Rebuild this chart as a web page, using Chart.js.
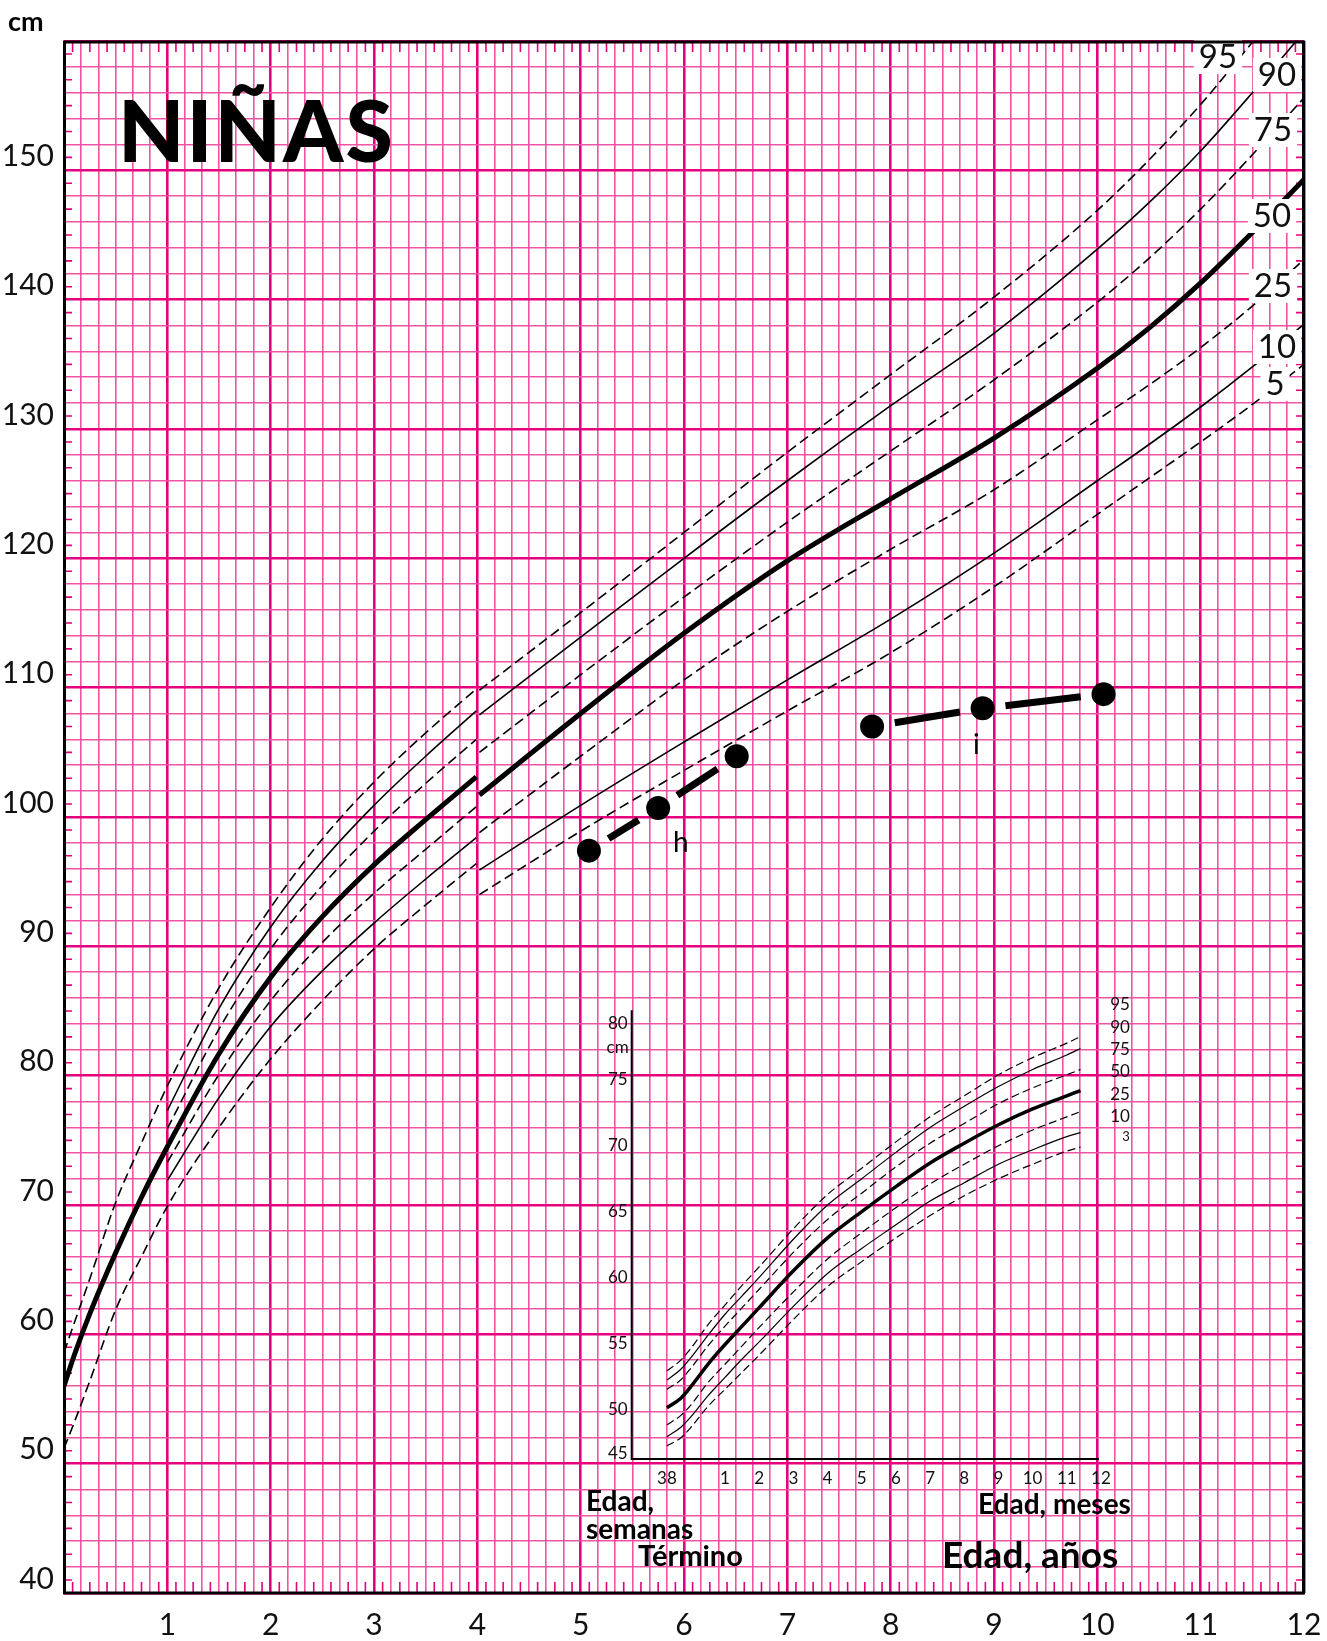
<!DOCTYPE html>
<html>
<head>
<meta charset="utf-8">
<title>Niñas - talla</title>
<script src="https://cdn.jsdelivr.net/npm/chart.js@4.4.1/dist/chart.umd.min.js"></script>
<style>
  html, body { margin: 0; padding: 0; background: #fff; }
  canvas { display: block; }
</style>
</head>
<body>
<canvas id="graficoTalla" width="1327" height="1641"></canvas>
<script>
// percentiles
const percentiles = ['95', '90', '75', '50', '25', '10', '5'];
const percentilesLactante = ['95', '90', '75', '50', '25', '10', '3'];

// etiquetas de los ejes
const aniosEtiquetas = [1, 2, 3, 4, 5, 6, 7, 8, 9, 10, 11, 12];
const tallaEtiquetas = [40, 50, 60, 70, 80, 90, 100, 110, 120, 130, 140, 150];
const lactanteTallaEtiquetas = [80, 75, 70, 65, 60, 55, 50, 45];
const lactanteMesesEtiquetas = [1, 2, 3, 4, 5, 6, 7, 8, 9, 10, 11, 12];
const semanasTermino = 38;

// 0 a 4 años (años, cm)
const edades0a4 = [0, 0.1, 0.25, 0.5, 0.75, 1, 1.5, 2, 2.5, 3, 3.5, 3.99];
const p95_0a4 = [58.6, 60.9, 64.3, 70.2, 74.8, 79.2, 86.8, 93.0, 98.3, 102.7, 106.5, 109.9];
const p50_0a4 = [56.0, 58.4, 61.6, 66.3, 70.6, 74.5, 81.7, 87.6, 92.3, 96.3, 99.8, 103.1];
const p5_0a4 = [51.2, 53.2, 56.4, 61.9, 66.0, 69.9, 76.0, 81.3, 85.8, 89.8, 93.2, 96.4];

const edades1a4 = [1, 1.5, 2, 2.5, 3, 3.5, 3.99];
const p90_1a4 = [77.3, 85.2, 91.5, 96.6, 100.9, 104.7, 108.2];
const p75_1a4 = [75.9, 83.6, 89.8, 94.7, 98.9, 102.6, 106.0];
const p25_1a4 = [73.3, 80.1, 85.8, 90.3, 94.1, 97.5, 100.8];
const p10_1a4 = [71.9, 78.3, 83.8, 88.1, 91.8, 95.2, 98.4];

// 4 a 12 años
const edades4a12 = [4.02, 5, 6, 7, 8, 9, 10, 10.5, 11, 11.5, 12];
const p95_4a12 = [109.8, 115.8, 122.0, 128.2, 134.2, 140.2, 146.9, 150.8, 155.1, 159.9, 164.8];
const p90_4a12 = [107.9, 113.9, 120.0, 126.0, 131.8, 137.4, 143.9, 147.5, 151.5, 156.0, 160.7];
const p75_4a12 = [105.0, 111.0, 117.0, 122.8, 128.3, 133.8, 139.8, 143.2, 147.0, 151.2, 155.6];
const p50_4a12 = [101.7, 108.0, 114.2, 119.8, 124.6, 129.3, 134.7, 137.8, 141.3, 145.2, 149.3];
const p25_4a12 = [98.8, 104.7, 110.6, 115.9, 120.7, 125.3, 130.7, 133.4, 136.3, 139.5, 143.1];
const p10_4a12 = [95.9, 100.9, 105.8, 110.6, 115.3, 120.4, 126.0, 128.8, 131.7, 134.8, 138.1];
const p5_4a12 = [94.0, 98.9, 103.6, 108.2, 112.7, 117.8, 123.4, 126.2, 129.0, 131.9, 135.0];

// lactante: meses desde el término (cm)
const mesesLactante = [-0.7, -0.3, 0, 0.5, 1, 1.5, 2, 3, 4, 5, 6, 7, 8, 9, 10, 11, 11.4];
const l95 = [52.9, 53.7, 54.6, 56.4, 57.9, 59.4, 60.8, 63.7, 66.3, 68.3, 70.3, 72.2, 73.8, 75.4, 76.7, 77.8, 78.3];
const l90 = [52.2, 53.0, 53.9, 55.6, 57.2, 58.6, 60.0, 62.9, 65.5, 67.5, 69.5, 71.4, 73.0, 74.5, 75.8, 76.9, 77.4];
const l75 = [51.5, 52.2, 53.1, 54.8, 56.3, 57.7, 59.1, 61.9, 64.4, 66.4, 68.4, 70.2, 71.7, 73.2, 74.4, 75.4, 75.8];
const l50 = [50.1, 50.8, 51.7, 53.4, 54.9, 56.3, 57.7, 60.5, 63.0, 65.0, 66.9, 68.7, 70.2, 71.6, 72.8, 73.8, 74.2];
const l25 = [48.8, 49.5, 50.3, 52.0, 53.4, 54.8, 56.2, 58.9, 61.4, 63.4, 65.3, 67.1, 68.6, 70.0, 71.2, 72.2, 72.6];
const l10 = [47.9, 48.6, 49.4, 51.0, 52.4, 53.8, 55.1, 57.8, 60.3, 62.2, 64.0, 65.8, 67.2, 68.6, 69.7, 70.7, 71.0];
const l3 = [47.2, 47.8, 48.6, 50.2, 51.5, 52.8, 54.1, 56.8, 59.3, 61.2, 63.0, 64.7, 66.2, 67.5, 68.6, 69.6, 69.9];

// casos h e i
const hEdad = [5.08, 5.75, 6.51];
const hTalla = [97.4, 100.7, 104.7];
const iEdad = [7.82, 8.89, 10.06];
const iTalla = [107.0, 108.4, 109.5];

const rosa = '#ef55a4';
const rosaFuerte = '#e6007e';
const estilos = ['guion', 'fino', 'guion', 'grueso', 'guion', 'fino', 'guion'];

function serie(edades, valores, estilo, lactante) {
    let ancho = lactante ? 1.2 : 1.6;
    let guion = [];
    if (estilo === 'guion') guion = lactante ? [8, 4] : [10, 5];
    if (estilo === 'grueso') ancho = lactante ? 3.5 : 5;
    return {
        data: edades.map((e, i) => ({ x: e, y: valores[i] })),
        borderColor: '#000',
        borderWidth: ancho,
        borderDash: guion,
        pointRadius: 0,
        cubicInterpolationMode: 'monotone',
        fill: false,
        xAxisID: lactante ? 'x2' : 'x',
        yAxisID: lactante ? 'y2' : 'y'
    };
}

const huecoPunto = 23;
function caso(edades, tallas) {
    const largo = c => Math.hypot(c.p1.x - c.p0.x, c.p1.y - c.p0.y);
    return {
        data: edades.map((e, i) => ({ x: e, y: tallas[i] })),
        borderColor: '#000',
        borderWidth: 7,
        pointRadius: 12,
        pointBackgroundColor: '#000',
        pointBorderWidth: 0,
        fill: false,
        segment: {
            borderDash: c => [Math.max(largo(c) - 2 * huecoPunto, 0), 2 * huecoPunto],
            borderDashOffset: c => largo(c) - huecoPunto
        }
    };
}

const tablas0a4 = [p95_0a4, p90_1a4, p75_1a4, p50_0a4, p25_1a4, p10_1a4, p5_0a4];
const tablas4a12 = [p95_4a12, p90_4a12, p75_4a12, p50_4a12, p25_4a12, p10_4a12, p5_4a12];
const tablasLactante = [l95, l90, l75, l50, l25, l10, l3];

const datasets = [];
percentiles.forEach((p, i) => {
    const edades = (p === '95' || p === '50' || p === '5') ? edades0a4 : edades1a4;
    datasets.push(serie(edades, tablas0a4[i], estilos[i], false));
    datasets.push(serie(edades4a12, tablas4a12[i], estilos[i], false));
});
percentilesLactante.forEach((p, i) => {
    datasets.push(serie(mesesLactante, tablasLactante[i], estilos[i], true));
});
datasets.push(caso(hEdad, hTalla));
datasets.push(caso(iEdad, iTalla));

const fuente = 'Lato, "Open Sans", sans-serif';

function texto(ctx, t, x, y, tam, peso, alin) {
    ctx.font = (peso || 'normal') + ' ' + tam + 'px ' + fuente;
    ctx.textAlign = alin || 'left';
    ctx.textBaseline = 'middle';
    ctx.fillText(t, x, y);
}

const decoracion = {
    id: 'decoracion',
    beforeDatasetsDraw(chart) {
        const { ctx, chartArea: a, scales } = chart;
        const { x, y, x2, y2 } = scales;
        ctx.save();
        // marcas interiores cada cm y cada mes
        ctx.strokeStyle = rosaFuerte;
        ctx.lineWidth = 1.6;
        ctx.beginPath();
        for (let v = 41; v < 160; v += 2) {
            const py = y.getPixelForValue(v);
            ctx.moveTo(a.left, py); ctx.lineTo(a.left + 8, py);
            ctx.moveTo(a.right - 8, py); ctx.lineTo(a.right, py);
        }
        for (let m = 1; m < 144; m += 2) {
            const px = x.getPixelForValue(m / 12);
            ctx.moveTo(px, a.top); ctx.lineTo(px, a.top + 11);
            ctx.moveTo(px, a.bottom - 11); ctx.lineTo(px, a.bottom);
        }
        ctx.stroke();

        // ejes del lactante
        const ex0 = x2.getPixelForValue(-1.73), ex1 = x2.getPixelForValue(11.94);
        const ey0 = y2.getPixelForValue(46.2), ey1 = y2.getPixelForValue(80.3);
        ctx.strokeStyle = '#000';
        ctx.lineWidth = 2;
        ctx.beginPath();
        ctx.moveTo(ex0, ey1); ctx.lineTo(ex0, ey0); ctx.lineTo(ex1, ey0);
        ctx.stroke();

        ctx.fillStyle = '#111';
        lactanteTallaEtiquetas.forEach(v => {
            let vv = v;
            if (v === 80) vv = 79.3;
            if (v === 45) vv = 46.6;
            texto(ctx, String(v), ex0 - 4, y2.getPixelForValue(vv), 17, 'normal', 'right');
        });
        texto(ctx, 'cm', ex0 - 3, y2.getPixelForValue(77.5), 17, 'normal', 'right');
        const ly = ey0 + 19;
        texto(ctx, String(semanasTermino), x2.getPixelForValue(-0.7), ly, 17, 'normal', 'center');
        lactanteMesesEtiquetas.forEach(m => {
            texto(ctx, String(m), x2.getPixelForValue(m), ly, 17, 'normal', 'center');
        });
        ctx.restore();
    },
    afterDatasetsDraw(chart) {
        const { ctx, chartArea: a } = chart;
        ctx.save();
        // etiquetas de percentiles con fondo blanco
        const pos = [[1218, 57], [1277, 75], [1273, 130], [1272, 216], [1273, 286], [1277, 347], [1275, 384]];
        ctx.font = '33px ' + fuente;
        percentiles.forEach((p, i) => {
            const w = ctx.measureText(p).width;
            ctx.fillStyle = '#fff';
            ctx.fillRect(pos[i][0] - w / 2 - 5, pos[i][1] - 17, w + 10, 34);
        });
        ctx.fillStyle = '#111';
        percentiles.forEach((p, i) => texto(ctx, p, pos[i][0], pos[i][1], 33, 'normal', 'center'));

        // percentiles del lactante
        percentilesLactante.forEach((p, i) => {
            if (p === '3') texto(ctx, p, 1126, 1137, 13, 'normal', 'center');
            else texto(ctx, p, 1120, 1005 + i * 22.3, 17, 'normal', 'center');
        });

        // marco
        ctx.strokeStyle = '#000';
        ctx.lineWidth = 3;
        ctx.strokeRect(a.left + 0.5, a.top + 1, a.right - a.left - 1, a.bottom - a.top - 1);

        // textos
        ctx.fillStyle = '#000';
        texto(ctx, 'cm', 8, 22, 27, 'bold');
        ctx.letterSpacing = '2px';
        texto(ctx, 'NIÑAS', 118, 134, 86, '900');
        ctx.letterSpacing = '0px';
        texto(ctx, 'h', 673, 843, 28);
        texto(ctx, 'i', 973, 745, 28);
        texto(ctx, 'Edad,', 586, 1502, 28, 'bold');
        texto(ctx, 'semanas', 586, 1530, 28, 'bold');
        texto(ctx, 'Término', 638, 1557, 29, 'bold');
        texto(ctx, 'Edad, meses', 978, 1505, 28, 'bold');
        texto(ctx, 'Edad, años', 942, 1556, 37, 'bold');
        ctx.restore();
    }
};

new Chart(document.getElementById('graficoTalla'), {
    type: 'line',
    data: { datasets: datasets },
    options: {
        responsive: false,
        animation: false,
        devicePixelRatio: 1,
        layout: { padding: { top: 41, right: 23, left: 0, bottom: 0 } },
        plugins: { legend: { display: false }, tooltip: { enabled: false } },
        scales: {
            x: {
                type: 'linear',
                min: 0,
                max: 12,
                afterBuildTicks: s => { s.ticks = Array.from({ length: 145 }, (_, i) => ({ value: i / 12 })); },
                afterFit: s => { s.height = 48; s.paddingLeft = 0; s.paddingRight = 0; },
                border: { display: false },
                grid: {
                    drawTicks: false,
                    color: c => {
                        if (!c.tick) return 'rgba(0,0,0,0)';
                        const m = Math.round(c.tick.value * 12);
                        return m % 2 ? 'rgba(0,0,0,0)' : (m % 12 ? rosa : rosaFuerte);
                    },
                    lineWidth: c => (c.tick && Math.round(c.tick.value * 12) % 12 === 0) ? 2.6 : 1.6
                },
                ticks: {
                    autoSkip: false,
                    maxRotation: 0,
                    padding: 14,
                    color: '#111',
                    font: { family: fuente, size: 30 },
                    callback: v => {
                        const m = Math.round(v * 12);
                        return (m % 12 === 0 && aniosEtiquetas.includes(m / 12)) ? String(m / 12) : '';
                    }
                }
            },
            y: {
                type: 'linear',
                min: 40,
                max: 160,
                afterBuildTicks: s => { s.ticks = Array.from({ length: 121 }, (_, i) => ({ value: 40 + i })); },
                afterFit: s => { s.width = 64; s.paddingTop = 0; s.paddingBottom = 0; },
                border: { display: false },
                grid: {
                    drawTicks: false,
                    color: c => {
                        if (!c.tick) return 'rgba(0,0,0,0)';
                        const v = Math.round(c.tick.value);
                        return v % 2 ? 'rgba(0,0,0,0)' : (v % 10 ? rosa : rosaFuerte);
                    },
                    lineWidth: c => (c.tick && Math.round(c.tick.value) % 10 === 0) ? 2.6 : 1.6
                },
                ticks: {
                    autoSkip: false,
                    padding: 10,
                    labelOffset: -14,
                    color: '#111',
                    font: { family: fuente, size: 30 },
                    callback: v => tallaEtiquetas.includes(v) ? String(v) : ''
                }
            },
            x2: { type: 'linear', display: false, min: -18.34, max: 17.94 },
            y2: { type: 'linear', display: false, min: 36.02, max: 153.95 }
        }
    },
    plugins: [decoracion]
});
</script>
</body>
</html>
